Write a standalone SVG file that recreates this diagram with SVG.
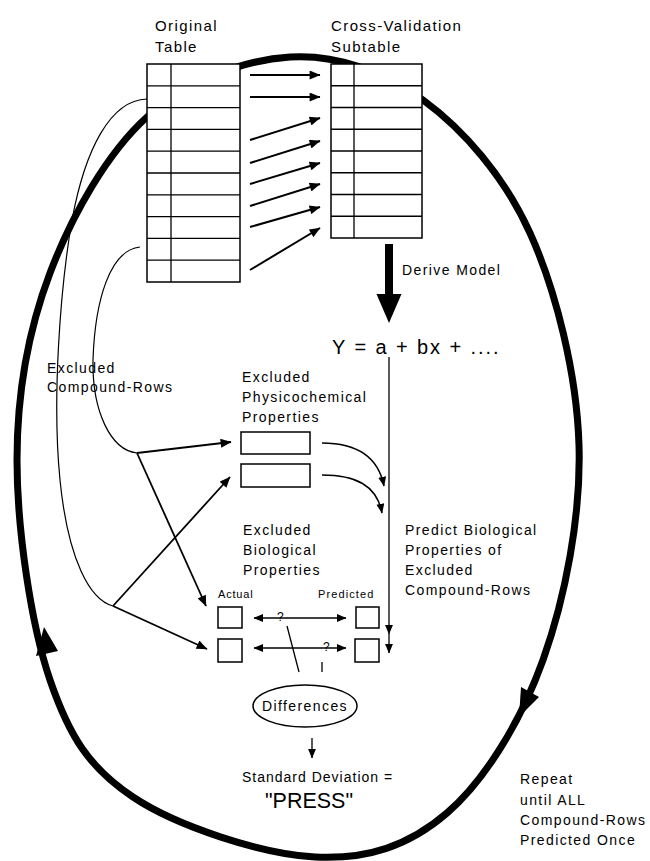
<svg xmlns="http://www.w3.org/2000/svg" width="650" height="861" viewBox="0 0 650 861">
<defs>
<marker id="ah" viewBox="0 0 12 10" refX="11.5" refY="5" markerWidth="12" markerHeight="9" markerUnits="userSpaceOnUse" orient="auto-start-reverse"><path d="M0,0 L12,5 L0,10 z" fill="#000"/></marker>
<marker id="ahs" viewBox="0 0 12 10" refX="11.5" refY="5" markerWidth="10" markerHeight="8" markerUnits="userSpaceOnUse" orient="auto-start-reverse"><path d="M0,0 L12,5 L0,10 z" fill="#000"/></marker>
</defs>
<style>
text{font-family:"Liberation Sans",Arial,Helvetica,sans-serif;font-size:14px;letter-spacing:1.4px;fill:#000}
.tbl rect{fill:#fff;stroke:#000;stroke-width:1.5}
.tbl line{stroke:#000;stroke-width:1.3}
.c{fill:none;stroke:#000;stroke-width:1.8}
.thin{fill:none;stroke:#000;stroke-width:1.2}
.box{fill:#fff;stroke:#000;stroke-width:1.5}
.big{fill:none;stroke:#000;stroke-width:7}
</style>
<rect width="650" height="861" fill="#fff"/>

<g id="connectors">
  <!-- repeat cycle -->
  <path class="big" d="M290,57 C336,54.2 383,70.7 423,100 C463,129.3 504,175.5 530,233 C556,290.5 576.8,373.8 579,445 C581.2,516.2 565,598.7 543,660 C521,721.3 485,780.2 447,813 C409,845.8 367.3,859.7 315,857 C262.7,854.3 177.2,826.5 133,797 C88.8,767.5 69.3,736.2 50,680 C30.7,623.8 17,527.8 17,460 C17,392.2 28.3,330.2 50,273 C71.7,215.8 107,153 147,117 C187,81 244,59.8 290,57 Z"/>
  <polygon points="519,717 521,687 539,697" fill="#000"/>
  <polygon points="44,627 36,656 58,651" fill="#000"/>
</g>

<g id="original-table" class="tbl">
  <rect x="147" y="64" width="93" height="218"/>
  <line x1="171" y1="64" x2="171" y2="282"/>
  <line x1="147" y1="85.8" x2="240" y2="85.8"/>
  <line x1="147" y1="107.6" x2="240" y2="107.6"/>
  <line x1="147" y1="129.4" x2="240" y2="129.4"/>
  <line x1="147" y1="151.2" x2="240" y2="151.2"/>
  <line x1="147" y1="173" x2="240" y2="173"/>
  <line x1="147" y1="194.8" x2="240" y2="194.8"/>
  <line x1="147" y1="216.6" x2="240" y2="216.6"/>
  <line x1="147" y1="238.4" x2="240" y2="238.4"/>
  <line x1="147" y1="260.2" x2="240" y2="260.2"/>
  <text x="155" y="31" style="font-size:15px">Original</text>
  <text x="155" y="52" style="font-size:15px">Table</text>
</g>

<g id="cv-subtable" class="tbl">
  <rect x="331" y="64" width="91" height="174"/>
  <line x1="354" y1="64" x2="354" y2="238"/>
  <line x1="331" y1="85.75" x2="422" y2="85.75"/>
  <line x1="331" y1="107.5" x2="422" y2="107.5"/>
  <line x1="331" y1="129.25" x2="422" y2="129.25"/>
  <line x1="331" y1="151" x2="422" y2="151"/>
  <line x1="331" y1="172.75" x2="422" y2="172.75"/>
  <line x1="331" y1="194.5" x2="422" y2="194.5"/>
  <line x1="331" y1="216.25" x2="422" y2="216.25"/>
  <text x="331" y="31" style="font-size:15px">Cross-Validation</text>
  <text x="331" y="52" style="font-size:15px">Subtable</text>
</g>

<g id="connectors-2">
  <!-- rows copied into subtable -->
  <line class="c" style="stroke-width:2" x1="250" y1="75" x2="320" y2="75" marker-end="url(#ah)"/>
  <line class="c" style="stroke-width:2" x1="250" y1="97" x2="320" y2="97" marker-end="url(#ah)"/>
  <line class="c" style="stroke-width:2" x1="250" y1="140" x2="320" y2="118" marker-end="url(#ah)"/>
  <line class="c" style="stroke-width:2" x1="250" y1="163" x2="320" y2="141" marker-end="url(#ah)"/>
  <line class="c" style="stroke-width:2" x1="250" y1="184" x2="320" y2="163" marker-end="url(#ah)"/>
  <line class="c" style="stroke-width:2" x1="250" y1="206" x2="320" y2="184" marker-end="url(#ah)"/>
  <line class="c" style="stroke-width:2" x1="250" y1="227" x2="320" y2="207" marker-end="url(#ah)"/>
  <line class="c" style="stroke-width:2" x1="250" y1="270" x2="320" y2="228" marker-end="url(#ah)"/>

  <!-- derive model -->
  <rect x="385" y="244" width="8" height="51" fill="#000"/>
  <polygon points="376.5,294 401.5,294 389,323" fill="#000"/>

  <!-- model line down to predictions -->
  <line class="thin" style="stroke-width:1.3" x1="389" y1="357" x2="389" y2="634" marker-end="url(#ahs)"/>
  <line class="thin" style="stroke-width:1.3" x1="389" y1="634" x2="389" y2="653" marker-end="url(#ahs)"/>

  <!-- physicochemical to model -->
  <path class="thin" style="stroke-width:1.5" d="M322,443 C355,443 378,456 384,486" marker-end="url(#ahs)"/>
  <path class="thin" style="stroke-width:1.5" d="M322,475 C355,475 377,485 382,513" marker-end="url(#ahs)"/>

  <!-- excluded compound rows -->
  <path class="thin" d="M147,99 C110,100 85,150 72,220 C60,290 52,400 60,480 C68,560 90,600 113,606"/>
  <path class="thin" d="M140,247 C110,250 95,300 93,360 C92,410 110,450 137,453"/>
  <line class="c" x1="137" y1="453" x2="231" y2="442" marker-end="url(#ah)"/>
  <line class="c" x1="137" y1="453" x2="206" y2="606" marker-end="url(#ah)"/>
  <line class="c" x1="113" y1="606" x2="230" y2="477" marker-end="url(#ah)"/>
  <line class="c" x1="113" y1="606" x2="207" y2="649" marker-end="url(#ah)"/>

  <!-- actual vs predicted -->
  <line class="c" style="stroke-width:1.5" x1="254" y1="618" x2="346" y2="618" marker-start="url(#ahs)" marker-end="url(#ahs)"/>
  <line class="c" style="stroke-width:1.5" x1="254" y1="648" x2="346" y2="648" marker-start="url(#ahs)" marker-end="url(#ahs)"/>
  <line class="thin" style="stroke-width:1.3" x1="287" y1="626" x2="299" y2="672"/>
  <line class="thin" style="stroke-width:1.3" x1="322" y1="662" x2="322" y2="672"/>

  <!-- differences to press -->
  <line class="thin" style="stroke-width:1.3" x1="312" y1="738" x2="312" y2="758" marker-end="url(#ahs)"/>
</g>

<g id="model">
  <text x="402" y="275">Derive Model</text>
  <text x="332" y="354" style="font-size:20px" textLength="168" lengthAdjust="spacing">Y = a + bx + ....</text>
</g>

<g id="excluded-rows-label">
  <text x="47" y="373">Excluded</text>
  <text x="47" y="392">Compound-Rows</text>
</g>

<g id="physicochemical">
  <text x="242" y="382">Excluded</text>
  <text x="242" y="402">Physicochemical</text>
  <text x="242" y="422">Properties</text>
  <rect class="box" x="241" y="432" width="69" height="22"/>
  <rect class="box" x="241" y="464" width="69" height="23"/>
</g>

<g id="biological">
  <text x="243" y="535">Excluded</text>
  <text x="243" y="555">Biological</text>
  <text x="243" y="575">Properties</text>
  <text x="218" y="598" style="font-size:11px;letter-spacing:0.8px">Actual</text>
  <text x="318" y="598" style="font-size:11px;letter-spacing:1.1px">Predicted</text>
  <rect class="box" x="218" y="607" width="24" height="21"/>
  <rect class="box" x="218" y="639" width="24" height="23"/>
  <rect class="box" x="356" y="607" width="23" height="21"/>
  <rect class="box" x="355" y="639" width="24" height="23"/>
  <text x="277" y="621" style="font-size:12px;letter-spacing:0">?</text>
  <text x="323" y="651" style="font-size:12px;letter-spacing:0">?</text>
</g>

<g id="predict-label">
  <text x="405" y="535">Predict Biological</text>
  <text x="405" y="555">Properties of</text>
  <text x="405" y="575">Excluded</text>
  <text x="405" y="595">Compound-Rows</text>
</g>

<g id="differences">
  <ellipse cx="305" cy="706" rx="52" ry="21" fill="#fff" stroke="#000" stroke-width="1.5"/>
  <text x="305" y="711" text-anchor="middle">Differences</text>
</g>

<g id="press">
  <text x="242" y="782" style="letter-spacing:1px">Standard Deviation =</text>
  <text x="265" y="808" style="font-size:22px;letter-spacing:0" textLength="88" lengthAdjust="spacingAndGlyphs">"PRESS"</text>
</g>

<g id="repeat-label">
  <text x="520" y="784">Repeat</text>
  <text x="520" y="805">until ALL</text>
  <text x="520" y="825">Compound-Rows</text>
  <text x="520" y="845">Predicted Once</text>
</g>
</svg>
